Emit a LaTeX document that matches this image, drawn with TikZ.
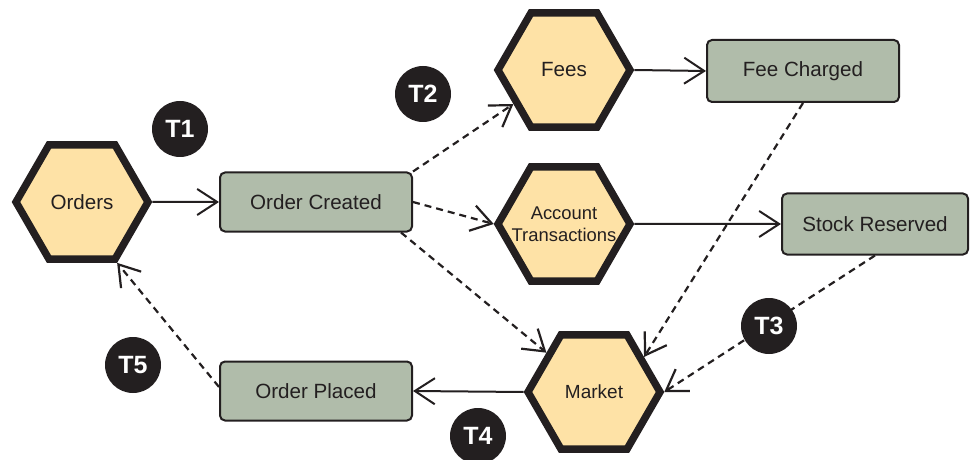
\documentclass[tikz,border=0pt]{standalone}
\usepackage{fontspec}
\setmainfont{Liberation Sans}
\usetikzlibrary{shapes.geometric,arrows.meta}
\definecolor{hexfill}{RGB}{254,226,166}
\definecolor{evfill}{RGB}{176,188,170}
\definecolor{ink}{RGB}{35,31,32}
\begin{document}
\begin{tikzpicture}[x=0.5pt,y=-0.5pt,
  hexa/.style={regular polygon, regular polygon sides=6, minimum size=66pt, inner sep=0pt,
    draw=ink, line width=3.7pt, fill=hexfill, text=ink, align=center,
    font=\fontsize{10.3}{12}\selectfont},
  event/.style={rectangle, rounded corners=2.5pt, draw=ink, line width=1pt, fill=evfill,
    text=ink, minimum width=96pt, minimum height=29.5pt, inner sep=0pt,
    font=\fontsize{10.3}{12}\selectfont},
  tag/.style={circle, fill=ink, text=white, minimum size=28pt, inner sep=0pt,
    font=\bfseries\fontsize{12.5}{14}\selectfont},
  flow/.style={draw=ink, line width=1pt, -{Straight Barb[length=10pt,width=13pt]}},
  async/.style={flow, line width=1.1pt, dash pattern=on 3.5pt off 2.5pt}]
\useasboundingbox (0,0) rectangle (970,460);

% aggregates (hexagons)
\node[hexa] (orders) at (82,202) {Orders};
\node[hexa] (fees) at (564,70) {Fees};
\node[hexa, inner sep=-8pt, font=\fontsize{9.2}{11}\selectfont] (acct) at (564,224) {Account\\Transactions};
\node[hexa, font=\fontsize{9.5}{11}\selectfont] (market) at (594,392) {Market};

% events (rectangles)
\node[event] (created) at (316,202) {Order Created};
\node[event] (placed) at (316,391) {Order Placed};
\node[event, minimum height=31pt] (charged) at (803,71) {Fee Charged};
\node[event, minimum width=93pt, minimum height=30.5pt] (reserved) at (875,224) {Stock Reserved};

% connectors
\draw[flow] (orders.east) -- (created.west);
\draw[async] (created.north east) -- (fees);
\draw[async] (created.east) -- (acct.west);
\draw[async] ([xshift=-6pt]created.south east) -- (market);
\draw[flow] (fees.east) -- (charged.west);
\draw[flow] (acct.east) -- (reserved.west);
\draw[async] (charged.south) -- (market.35);
\draw[async] (reserved.south) -- (market.east);
\draw[flow] (market.west) -- (placed.east);
\draw[async] ([yshift=2pt]placed.west) -- (orders.-60);

% step tags
\node[tag] (t1) at (180,129) {T1};
\node[tag] (t2) at (423,94) {T2};
\node[tag] (t3) at (769,326) {T3};
\node[tag] (t4) at (478,436) {T4};
\node[tag] (t5) at (133,365) {T5};
\end{tikzpicture}
\end{document}
